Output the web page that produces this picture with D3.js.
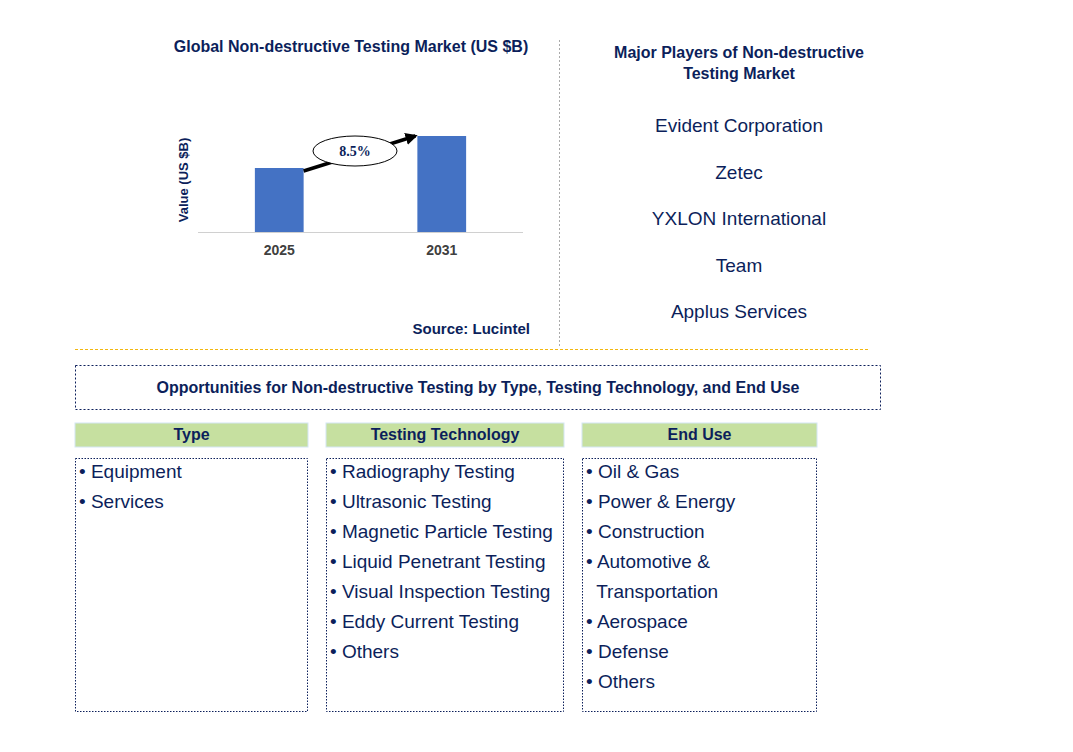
<!DOCTYPE html>
<html><head><meta charset="utf-8">
<script src="https://cdn.jsdelivr.net/npm/d3@7"></script>
<style>body{margin:0;background:#fff}svg{display:block;font-family:Arial,"Liberation Sans",sans-serif}</style>
</head><body><svg id="c" width="1073" height="752"></svg>
<script>
const years = ["2025","2031"];
const values = [2.0, 3.0];
const cagr = "8.5%";
const players = ["Evident Corporation","Zetec","YXLON International","Team","Applus Services"];
const segTitles = ["Type","Testing Technology","End Use"];
const typeItems = ["Equipment","Services"];
const techItems = ["Radiography Testing","Ultrasonic Testing","Magnetic Particle Testing","Liquid Penetrant Testing","Visual Inspection Testing","Eddy Current Testing","Others"];
const endItems = ["Oil & Gas","Power & Energy","Construction","Automotive &","  Transportation","Aerospace","Defense","Others"];

const svg = d3.select("#c");
const navy = "#0c1f5b";
svg.append("defs").append("marker").attr("id","ah").attr("viewBox","0 0 10 10").attr("refX",8).attr("refY",5)
  .attr("markerWidth",3.5).attr("markerHeight",3.5).attr("orient","auto")
  .append("path").attr("d","M0,0L10,5L0,10z").attr("fill","#000");

svg.append("text").attr("x",351).attr("y",52).attr("text-anchor","middle").attr("font-size",16).attr("font-weight","bold").attr("fill",navy).text("Global Non-destructive Testing Market (US $B)");
const x = d3.scaleBand().domain(years).range([198,523]).paddingInner(0.7).paddingOuter(0.35);
const y = d3.scaleLinear().domain([0,3]).range([232,136]);
svg.selectAll("rect.bar").data(values).join("rect").attr("class","bar")
  .attr("x",(d,i)=>x(years[i])).attr("width",x.bandwidth()).attr("y",d=>y(d)).attr("height",d=>232-y(d)).attr("fill","#4472c4");
svg.append("line").attr("x1",198).attr("x2",523).attr("y1",232.5).attr("y2",232.5).attr("stroke","#d0d0d0");
years.forEach((yr,i)=>svg.append("text").attr("x",x(yr)+x.bandwidth()/2).attr("y",255).attr("text-anchor","middle").attr("font-size",14).attr("font-weight","bold").attr("fill","#404040").text(yr));
svg.append("text").attr("transform","translate(188,180) rotate(-90)").attr("text-anchor","middle").attr("font-size",13).attr("font-weight","bold").attr("fill",navy).text("Value (US $B)");
const x1 = x(years[0])+x.bandwidth(), y1 = y(values[0])+3, x2 = x(years[1])-2, y2 = y(values[1]);
svg.append("line").attr("x1",x1).attr("y1",y1).attr("x2",x2).attr("y2",y2).attr("stroke","#000").attr("stroke-width",3.5).attr("marker-end","url(#ah)");
svg.append("ellipse").attr("cx",355).attr("cy",151).attr("rx",42).attr("ry",15).attr("fill","#fff").attr("stroke","#000").attr("stroke-width",1);
svg.append("text").attr("x",355).attr("y",156).attr("text-anchor","middle").attr("font-size",14).attr("font-weight","bold").attr("font-family","Liberation Serif,serif").attr("fill",navy).text(cagr);
svg.append("text").attr("x",530).attr("y",334).attr("text-anchor","end").attr("font-size",15).attr("font-weight","bold").attr("fill",navy).text("Source: Lucintel");

svg.append("line").attr("x1",559.5).attr("x2",559.5).attr("y1",40).attr("y2",348).attr("stroke","#aaa").attr("stroke-dasharray","2,2");
svg.append("line").attr("x1",75).attr("x2",870).attr("y1",349.5).attr("y2",349.5).attr("stroke","#f2b70f").attr("stroke-dasharray","3,2");

svg.append("text").attr("x",739).attr("y",58).attr("text-anchor","middle").attr("font-size",16).attr("font-weight","bold").attr("fill",navy).text("Major Players of Non-destructive");
svg.append("text").attr("x",739).attr("y",79).attr("text-anchor","middle").attr("font-size",16).attr("font-weight","bold").attr("fill",navy).text("Testing Market");
players.forEach((p,i)=>svg.append("text").attr("x",739).attr("y",132+i*46.5).attr("text-anchor","middle").attr("font-size",19).attr("fill",navy).text(p));

svg.append("rect").attr("x",75.5).attr("y",365.5).attr("width",805).attr("height",44).attr("fill","none").attr("stroke",navy).attr("stroke-dasharray","2,2");
svg.append("text").attr("x",478).attr("y",393).attr("text-anchor","middle").attr("font-size",16).attr("font-weight","bold").attr("fill",navy).text("Opportunities for Non-destructive Testing by Type, Testing Technology, and End Use");

const cols = [[75,233,typeItems],[326,238,techItems],[582,235,endItems]];
cols.forEach(([cx,w,items],k)=>{
  svg.append("rect").attr("x",cx).attr("y",423).attr("width",w).attr("height",24).attr("fill","#c6e0a0").attr("stroke","#d4e6f4");
  svg.append("text").attr("x",cx+w/2).attr("y",440).attr("text-anchor","middle").attr("font-size",16).attr("font-weight","bold").attr("fill",navy).text(segTitles[k]);
  svg.append("rect").attr("x",cx+0.5).attr("y",458.5).attr("width",w-1).attr("height",253).attr("fill","none").attr("stroke",navy).attr("stroke-dasharray","1.5,1.5");
  items.forEach((t,i)=>{
    const cont = t.startsWith("  ");
    svg.append("text").attr("x",cx+4).attr("y",478+i*30).attr("font-size",19).attr("fill",navy)
      .attr("xml:space","preserve").text(cont ? "  "+t.trim() : "• "+t);
  });
});
</script></body></html>
